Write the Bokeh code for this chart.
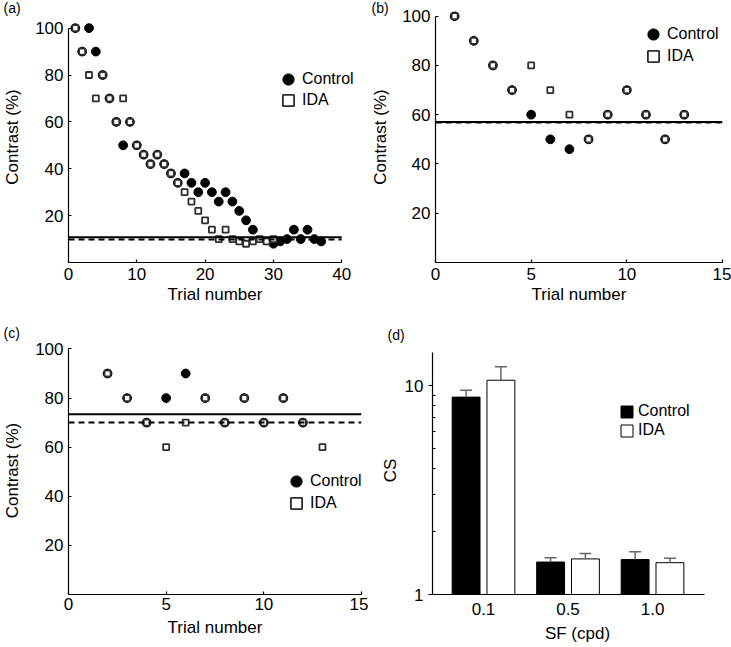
from bokeh.plotting import figure
from bokeh.layouts import column, row
from bokeh.models import (Range1d, FixedTicker, Legend, LegendItem, Title,
                          ColumnDataSource, Whisker, TeeHead, BasicTickFormatter)
from bokeh.transform import dodge
from bokeh.embed import file_html
from bokeh.resources import INLINE

FONT = "Liberation Sans"

# ---------------- data ----------------
# (a)
a_ctrl_trial = [1, 2, 3, 4, 5, 6, 7, 8, 9, 10, 11, 12, 13, 14, 15, 16, 17, 18, 19, 20,
                21, 22, 23, 24, 25, 26, 27, 30, 31, 32, 33, 34, 35, 36, 37]
a_ctrl_contrast = [100, 90, 100, 90, 80, 70, 60, 50, 60, 50, 46, 42, 46, 42, 38, 34, 38, 34, 30, 34,
                   30, 26, 30, 26, 22, 18, 14, 8, 9, 10, 14, 10, 14, 10, 9]
a_ida_trial = [1, 2, 3, 4, 5, 6, 7, 8, 9, 10, 11, 12, 13, 14, 15, 16, 17, 18, 19, 20,
               21, 22, 23, 24, 25, 26, 27, 28, 29, 30]
a_ida_contrast = [100, 90, 80, 70, 80, 70, 60, 70, 60, 50, 46, 42, 46, 42, 38, 34, 30, 26, 22, 18,
                  14, 10, 14, 10, 9, 8, 9, 10, 9, 10]
a_ctrl_threshold = 10.8
a_ida_threshold = 9.8
a_trial_max = 40

# (b)
b_ctrl_trial = [1, 2, 3, 4, 5, 6, 7, 8, 9, 10, 11, 12, 13]
b_ctrl_contrast = [100, 90, 80, 70, 60, 50, 46, 50, 60, 70, 60, 50, 60]
b_ida_trial = [1, 2, 3, 4, 5, 6, 7, 8, 9, 10, 11, 12, 13]
b_ida_contrast = [100, 90, 80, 70, 80, 70, 60, 50, 60, 70, 60, 50, 60]
b_ctrl_threshold = 57.0
b_ida_threshold = 56.8
b_trial_max = 15

# (c)
c_ctrl_trial = [2, 3, 4, 5, 6, 7, 8, 9, 10, 11, 12]
c_ctrl_contrast = [90, 80, 70, 80, 90, 80, 70, 80, 70, 80, 70]
c_ida_trial = [2, 3, 4, 5, 6, 7, 8, 9, 10, 11, 12, 13]
c_ida_contrast = [90, 80, 70, 60, 70, 80, 70, 80, 70, 80, 70, 60]
c_ctrl_threshold = 73.4
c_ida_threshold = 70.0
c_trial_max = 15

y_ticks = [20, 40, 60, 80, 100]
a_x_ticks = [0, 10, 20, 30, 40]
bc_x_ticks = [0, 5, 10, 15]

# (d)
sf_labels = ["0.1", "0.5", "1.0"]
cs_ctrl = [8.8, 1.43, 1.47]
cs_ctrl_sem = [0.7, 0.07, 0.13]
cs_ida = [10.6, 1.48, 1.42]
cs_ida_sem = [1.7, 0.09, 0.07]
cs_major_ticks = [1, 10]
cs_minor_ticks = [2, 3, 4, 5, 6, 7, 8, 9]


def tag_title(text, offset, standoff):
    return Title(text=text, align="left", vertical_align="top", offset=offset,
                 standoff=standoff, text_font=FONT, text_font_size="14px",
                 text_font_style="normal", text_color="black")


def style_axes(p, ts_x, ts_y, ls_x, ls_y):
    for ax in (p.xaxis, p.yaxis):
        ax.axis_line_color = "black"
        ax.axis_line_width = 1.2
        ax.major_tick_line_color = "black"
        ax.major_tick_line_width = 1.2
        ax.minor_tick_line_color = None
        ax.major_label_text_font = FONT
        ax.major_label_text_font_size = "17px"
        ax.major_label_text_color = "black"
        ax.axis_label_text_font = FONT
        ax.axis_label_text_font_size = "17px"
        ax.axis_label_text_font_style = "normal"
        ax.axis_label_text_color = "black"
    p.xaxis.major_label_standoff = ts_x
    p.yaxis.major_label_standoff = ts_y
    p.xaxis.axis_label_standoff = ls_x
    p.yaxis.axis_label_standoff = ls_y
    p.xgrid.visible = False
    p.ygrid.visible = False
    p.outline_line_color = None


def one_legend(label, renderer, x, y, gw, gh, standoff):
    return Legend(items=[LegendItem(label=label, renderers=[renderer])],
                  location=(x, y), glyph_width=gw, glyph_height=gh, spacing=0,
                  label_standoff=standoff, padding=0, margin=0, border_line_color=None,
                  background_fill_alpha=0, label_text_font=FONT, label_text_font_size="16px",
                  label_text_color="black")


def staircase(title, xmax, trial_max, xticks, ymax, ct, cc, it, ic, thr_c, thr_i, w, h, mb,
              leg_c, leg_i, ts_x, ls_x, ts_y, ls_y):
    p = figure(width=w, height=h, x_range=Range1d(0, xmax), y_range=Range1d(0, ymax),
               output_backend="svg", toolbar_location=None, title=title,
               min_border_left=mb[0], min_border_right=mb[1],
               min_border_top=mb[2], min_border_bottom=mb[3])
    style_axes(p, ts_x, ts_y, ls_x, ls_y)
    p.xaxis.ticker = FixedTicker(ticks=xticks)
    p.yaxis.ticker = FixedTicker(ticks=y_ticks)
    p.yaxis.bounds = (0, 100)
    p.xaxis.bounds = (0, trial_max)
    for ax in (p.xaxis, p.yaxis):
        ax.major_tick_in = 3
        ax.major_tick_out = 0
    p.xaxis.axis_label = "Trial number"
    p.yaxis.axis_label = "Contrast (%)"

    r_c = p.scatter(ct, cc, marker="circle", size=8.8, fill_color="black", line_color="black")
    r_i = p.scatter(it, ic, marker="square", size=6, fill_color="white",
                    line_color="#2e2e2e", line_width=1.8)
    p.segment(x0=[0], x1=[trial_max], y0=[thr_c], y1=[thr_c], line_color="black", line_width=2)
    p.segment(x0=[0], x1=[trial_max], y0=[thr_i], y1=[thr_i], line_color="black", line_width=2,
              line_dash="6 4")
    p.add_layout(one_legend("Control", r_c, leg_c[0], leg_c[1], 28, 28, 0))
    p.add_layout(one_legend("IDA", r_i, leg_i[0], leg_i[1], 28, 28, 0))
    return p


# column 0: width 368, frame x 65..361 ; column 1: width 363, frame x 432..722
# row 0: height 318, frame y 11..262 ; row 1: height 329, frame y 346..594
pa = staircase(tag_title("(a)", -65, -13), 42.9, a_trial_max, a_x_ticks, 107.1,
               a_ctrl_trial, a_ctrl_contrast, a_ida_trial, a_ida_contrast,
               a_ctrl_threshold, a_ida_threshold, 368, 318, (65, 7, 11, 56),
               (206, 169), (206, 148), 5, 2, 5, 10)
pb = staircase(tag_title("(b)", -64, -13), 15, b_trial_max, bc_x_ticks, 101.9,
               b_ctrl_trial, b_ctrl_contrast, b_ida_trial, b_ida_contrast,
               b_ctrl_threshold, b_ida_threshold, 363, 318, (64, 9, 11, 56),
               (204, 214), (204, 192), 5, 2, 5, 9)
pc = staircase(tag_title("(c)", -65, 8), 15, c_trial_max, bc_x_ticks, 101.0,
               c_ctrl_trial, c_ctrl_contrast, c_ida_trial, c_ida_contrast,
               c_ctrl_threshold, c_ida_threshold, 368, 329, (65, 7, 28, 53),
               (214, 99), (214, 77), 3, 5, 5, 10)

# ---------------- (d) ----------------
sf_index = list(range(len(sf_labels)))
src = ColumnDataSource(dict(
    idx=sf_index,
    ctrl=cs_ctrl,
    ida=cs_ida,
    ctrl_hi=[v + e for v, e in zip(cs_ctrl, cs_ctrl_sem)],
    ida_hi=[v + e for v, e in zip(cs_ida, cs_ida_sem)],
))
pd_ = figure(width=363, height=329, x_range=Range1d(-0.6036, 2.828),
             y_range=Range1d(1, 15.37), y_axis_type="log",
             output_backend="svg", toolbar_location=None, title=tag_title("(d)", -45, 3),
             min_border_left=64, min_border_right=9, min_border_top=28, min_border_bottom=53)
style_axes(pd_, 8, 5, 6, 2)
pd_.xaxis.ticker = FixedTicker(ticks=sf_index)
pd_.xaxis.major_label_overrides = {i: s for i, s in zip(sf_index, sf_labels)}
pd_.xaxis.bounds = (-0.6036, 2.615)
pd_.xaxis.major_tick_in = 0
pd_.xaxis.major_tick_out = 0
pd_.yaxis.ticker = FixedTicker(ticks=cs_major_ticks, minor_ticks=cs_minor_ticks)
pd_.yaxis.formatter = BasicTickFormatter()
pd_.yaxis.bounds = (1, 14.4)
pd_.yaxis.major_tick_in = 0
pd_.yaxis.major_tick_out = 4
pd_.yaxis.minor_tick_line_color = "black"
pd_.yaxis.minor_tick_in = 3
pd_.yaxis.minor_tick_out = 0
pd_.xaxis.axis_label = "SF (cpd)"
pd_.yaxis.axis_label = "CS"

off = 0.206
bw = 0.33
rb_c = pd_.vbar(x=dodge("idx", -off), top="ctrl", bottom=1, width=bw,
                fill_color="black", line_color="black", source=src)
rb_i = pd_.vbar(x=dodge("idx", off), top="ida", bottom=1, width=bw,
                fill_color="white", line_color="black", source=src)
for col, hi, sign in (("ctrl", "ctrl_hi", -1), ("ida", "ida_hi", 1)):
    pd_.add_layout(Whisker(base=dodge("idx", sign * off), lower=col, upper=hi,
                           source=src, line_color="#666666", line_width=1.5, lower_head=None,
                           upper_head=TeeHead(size=12, line_color="#666666", line_width=1.5),
                           level="glyph"))
pd_.add_layout(one_legend("Control", rb_c, 187, 174, 15, 15, 4))
pd_.add_layout(one_legend("IDA", rb_i, 187, 155, 15, 15, 4))

layout = column(row(pa, pb), row(pc, pd_))
open("out.html", "w").write(file_html(layout, INLINE))
